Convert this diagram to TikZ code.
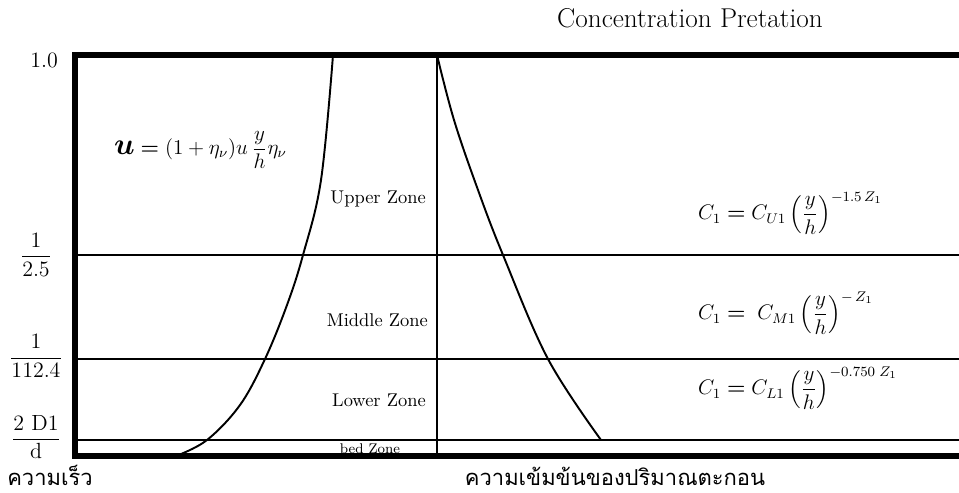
\documentclass[tikz,border=0pt]{standalone}
\usepackage{amsmath}
\usepackage{fontspec}
\newfontfamily\thaifont[Script=Thai]{Loma}
\tikzset{
  frame/.style={line width=3.4pt},
  zoneline/.style={line width=1.1pt},
  curve/.style={line width=1.1pt},
  zonelabel/.style={anchor=east, font=\fontsize{10.5}{12}\selectfont},
  ticklabel/.style={font=\fontsize{12.5}{15}\selectfont},
  formula/.style={anchor=west, font=\fontsize{11.5}{14}\selectfont},
  axislabel/.style={anchor=base, inner sep=0pt, font=\thaifont\fontsize{12.5}{15}\selectfont}
}
\begin{document}
\begin{tikzpicture}[x=0.02cm, y=-0.02cm]
\useasboundingbox (0,0) rectangle (959,493);

% zone boundaries
\begin{scope}[zoneline]
\draw (75,255) -- (959,255);
\draw (75,359) -- (959,359);
\draw (75,440) -- (959,440);
\draw (437,55) -- (437,456);
\end{scope}

% velocity and concentration profiles
\begin{scope}[curve]
\draw plot[smooth, tension=0.6] coordinates {(176,456) (207,440) (240,405) (265,359) (287,305) (303,255) (321,180) (333,55)};
\draw plot[smooth, tension=0.6] coordinates {(437,55) (454,120) (478,190) (503,255) (548,359) (601,440)};
\end{scope}

% axes
\draw [frame] (959,55) -- (75,55) -- (75,456) -- (959,456);

\node [font=\fontsize{15.5}{18}\selectfont] (title) at (690,18) {Concentration Pretation};

\node [ticklabel, anchor=east] (top) at (64,60) {1.0};
\node [ticklabel] (upper) at (36,255) {$\dfrac{\text{1}}{\text{2.5}}$};
\node [ticklabel] (middle) at (36,356) {$\dfrac{\text{1}}{\text{112.4}}$};
\node [ticklabel] (bed) at (36,437) {$\dfrac{\text{2 D1}}{\text{d}}$};

\node [zonelabel] (uz) at (432,199) {Upper Zone};
\node [zonelabel] (mz) at (434,320) {Middle Zone};
\node [zonelabel] (lz) at (432,400) {Lower Zone};
\node [font=\footnotesize, inner sep=0pt] (bz) at (370,449) {bed Zone};

\node [formula] (vel) at (108,150) {$\text{\LARGE$\boldsymbol{u}$}\boldsymbol{=}(1+\eta_{\nu})u\,\dfrac{y}{h}\eta_{\nu}$};

\node [formula] (cu) at (692,213) {$C_{1}\boldsymbol{=}C_{U1}\left(\dfrac{y}{h}\right)^{-1.5\,Z_{1}}$};
\node [formula] (cm) at (692,313) {$C_{1}\boldsymbol{=}\;C_{M1}\left(\dfrac{y}{h}\right)^{-\,Z_{1}}$};
\node [formula] (cl) at (692,388) {$C_{1}\boldsymbol{=}C_{L1}\left(\dfrac{y}{h}\right)^{-0.750\;Z_{1}}$};

\node [axislabel] (vlab) at (50,485) {ความเร็ว};
\node [axislabel] (clab) at (615,485) {ความเข้มข้นของปริมาณตะกอน};

\end{tikzpicture}
\end{document}
